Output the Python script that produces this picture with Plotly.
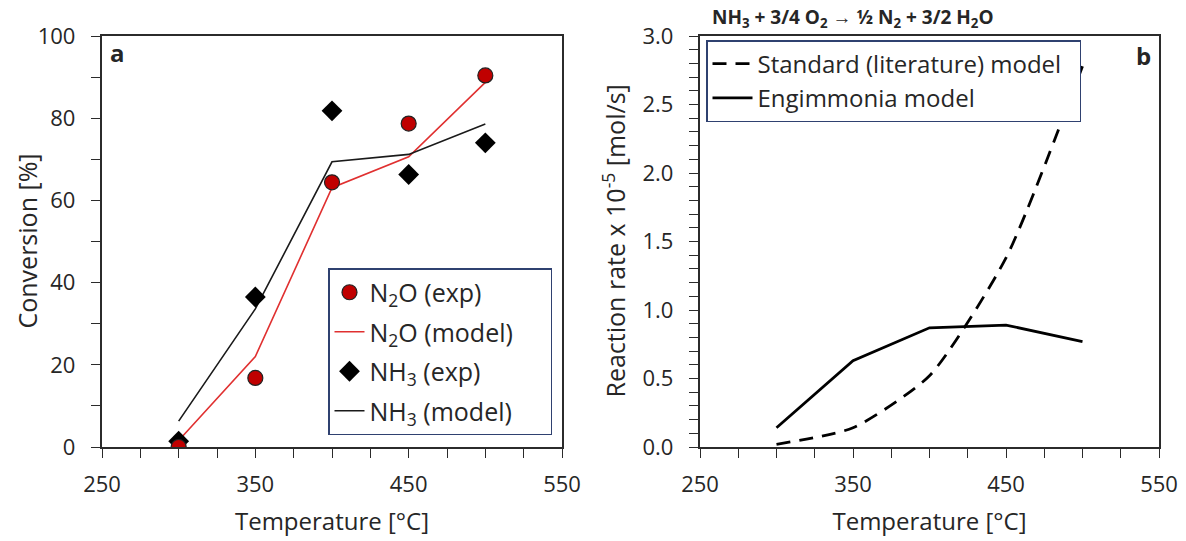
import plotly.graph_objects as go

# Temperatures [°C]
temperature = [300, 350, 400, 450, 500]

# Panel a: conversion [%]
n2o_exp = [0.0, 16.8, 64.4, 78.7, 90.4]
n2o_model = [1.6, 22.0, 63.1, 70.6, 88.7]
nh3_exp = [1.4, 36.5, 81.8, 66.3, 74.0]
nh3_model = [6.3, 33.6, 69.4, 71.2, 78.6]

# Panel b: reaction rate x 1e-5 [mol/s]
rate_standard = [0.02, 0.14, 0.52, 1.38, 2.78]
rate_engimmonia = [0.14, 0.63, 0.87, 0.89, 0.77]

FONT = "Open Sans"
TXT = "#262626"
AX = "#2b2b2b"
NBSP = "\u00a0"

fig = go.Figure()

# lines first so the markers sit on top; legendrank sets the legend order
fig.add_trace(go.Scatter(
    x=temperature, y=n2o_model, mode="lines", name="N<sub>2</sub>O (model)" + NBSP * 5,
    line=dict(color="#e03030", width=1.6), legendgroup="g2", legendrank=2,
    legend="legend", xaxis="x", yaxis="y"))
fig.add_trace(go.Scatter(
    x=temperature, y=nh3_model, mode="lines", name="NH<sub>3</sub> (model)",
    line=dict(color="#1a1a1a", width=1.6), legendgroup="g4", legendrank=4,
    legend="legend", xaxis="x", yaxis="y"))
fig.add_trace(go.Scatter(
    x=temperature, y=nh3_exp, mode="markers", name="NH<sub>3</sub> (exp)",
    marker=dict(symbol="diamond", size=16, color="black"), legendgroup="g3",
    legendrank=3, legend="legend", xaxis="x", yaxis="y"))
fig.add_trace(go.Scatter(
    x=temperature, y=n2o_exp, mode="markers", name="N<sub>2</sub>O (exp)",
    marker=dict(symbol="circle", size=15, color="#c00000",
                line=dict(color="#222222", width=1.2)),
    legendgroup="g1", legendrank=1, legend="legend", xaxis="x", yaxis="y"))

fig.add_trace(go.Scatter(
    x=temperature, y=rate_standard, mode="lines",
    name="Standard (literature) model" + NBSP * 2,
    line=dict(color="black", width=2.8, dash="14px,9px", shape="spline", smoothing=0.6),
    legendgroup="s1", legend="legend2", xaxis="x2", yaxis="y2"))
fig.add_trace(go.Scatter(
    x=temperature, y=rate_engimmonia, mode="lines", name="Engimmonia model",
    line=dict(color="black", width=2.8), legendgroup="s2",
    legend="legend2", xaxis="x2", yaxis="y2"))

W, H = 1186, 541
TOP, BOT = 36, 447
MID = 1 - (TOP + BOT) / 2 / H
tick_style = dict(ticks="outside", ticklen=9, tickwidth=1.3, tickcolor=AX)
frame = dict(showline=True, linecolor=AX, linewidth=1.6, mirror=True,
             showgrid=False, zeroline=False, automargin=False)
xa_common = dict(
    range=[250, 550], tick0=250, dtick=100, **tick_style, **frame,
    minor=dict(dtick=25, **tick_style), ticklabelstandoff=8,
    tickfont=dict(family=FONT, size=22, color=TXT),
    title=dict(text="Temperature [°C]", font=dict(family=FONT, size=24, color=TXT),
               standoff=16),
)
# trailing no-break spaces keep the y tick labels clear of the tick marks
ya_common = dict(**tick_style, **frame, ticksuffix=NBSP * 2,
                 tickfont=dict(family=FONT, size=22, color=TXT))

fig.update_layout(
    width=W, height=H, margin=dict(l=0, r=0, t=0, b=0),
    paper_bgcolor="white", plot_bgcolor="white",
    showlegend=True,
    xaxis=dict(domain=[102 / W, 562 / W], anchor="y", **xa_common),
    yaxis=dict(
        domain=[1 - BOT / H, 1 - TOP / H], anchor="x", range=[0, 100], dtick=20,
        minor=dict(dtick=10, **tick_style), **ya_common),
    xaxis2=dict(domain=[700 / W, 1159 / W], anchor="y2", **xa_common),
    yaxis2=dict(
        domain=[1 - BOT / H, 1 - TOP / H], anchor="x2", range=[0, 3], dtick=0.5,
        tickformat=".1f", minor=dict(dtick=0.1, **tick_style), **ya_common),
    legend=dict(
        x=328 / W, y=1 - 268 / H, xanchor="left", yanchor="top",
        bgcolor="white", bordercolor="#2f4170", borderwidth=1.5,
        font=dict(family=FONT, size=25, color=TXT),
        traceorder="grouped", tracegroupgap=4, itemwidth=30,
    ),
    legend2=dict(
        x=706 / W, y=1 - 40 / H, xanchor="left", yanchor="top",
        bgcolor="white", bordercolor="#2f4170", borderwidth=1.5,
        font=dict(family=FONT, size=24, color=TXT), itemwidth=40,
        traceorder="grouped", tracegroupgap=0,
    ),
    annotations=[
        dict(text="Conversion [%]", x=26 / W, y=MID, xref="paper", yref="paper",
             xanchor="center", yanchor="middle", textangle=-90, showarrow=False,
             font=dict(family=FONT, size=25, color=TXT)),
        dict(text="Reaction rate x 10<sup>-5</sup> [mol/s]", x=614 / W, y=MID,
             xref="paper", yref="paper", xanchor="center", yanchor="middle",
             textangle=-90, showarrow=False,
             font=dict(family=FONT, size=25, color=TXT)),
        dict(text="<b>a</b>", x=108 / W, y=1 - 52 / H, xref="paper", yref="paper",
             xanchor="left", yanchor="middle", showarrow=False,
             font=dict(family=FONT, size=24, color=TXT)),
        dict(text="<b>b</b>", x=1153 / W, y=1 - 56 / H, xref="paper", yref="paper",
             xanchor="right", yanchor="middle", showarrow=False,
             font=dict(family=FONT, size=24, color=TXT)),
        dict(text="<b>NH<sub>3</sub> + 3/4 O<sub>2</sub> → ½ N<sub>2</sub> + 3/2 H<sub>2</sub>O</b>",
             x=710 / W, y=1 - 18 / H, xref="paper", yref="paper",
             xanchor="left", yanchor="middle", showarrow=False,
             font=dict(family=FONT, size=19, color=TXT)),
    ],
)

fig.write_html("out.html")
